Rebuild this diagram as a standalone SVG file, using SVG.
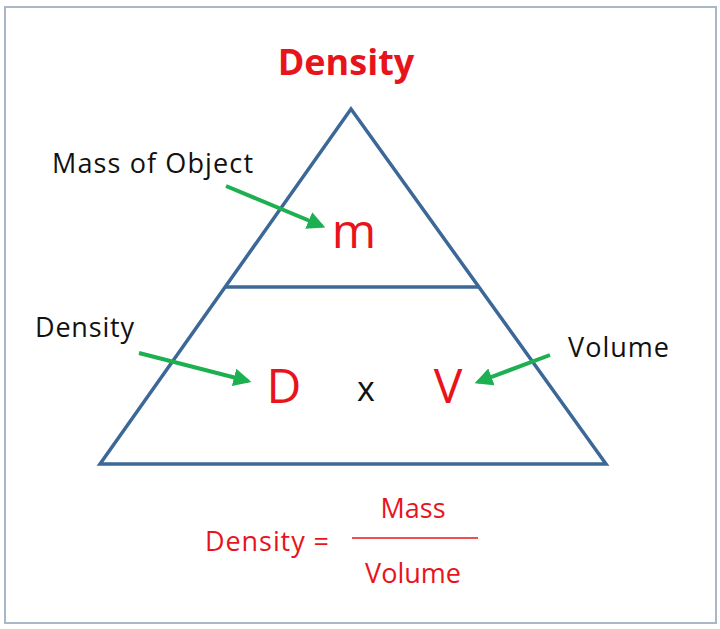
<svg xmlns="http://www.w3.org/2000/svg" width="720" height="629" viewBox="0 0 720 629">
<style>
text{font-family:"Open Sans","Noto Sans","Liberation Sans",sans-serif}
.lbl{font-size:27px;fill:#111}
.red{fill:#e8141c}
.edge{stroke:#1db050;stroke-width:4;fill:none;marker-end:url(#ah)}
.tri{stroke:#3c6898;stroke-width:3.5;fill:none}
</style>
<defs><marker id="ah" viewBox="0 0 10 10" refX="8" refY="5" markerWidth="4.5" markerHeight="4.5" orient="auto"><path d="M0,0L10,5L0,10z" fill="#1db050"/></marker></defs>
<rect x="5" y="7" width="711" height="616" fill="#fff" stroke="#aab7c6" stroke-width="2"/>
<g id="triangle"><path class="tri" d="M351,109L100,464H606Z"/><line class="tri" x1="226" y1="287" x2="478" y2="287"/></g>
<g id="title"><text x="346" y="75" text-anchor="middle" font-size="36" font-weight="bold" class="red">Density</text></g>
<g id="m"><text x="354" y="248" text-anchor="middle" font-size="48" class="red">m</text></g>
<g id="D"><text x="284" y="403" text-anchor="middle" font-size="48" class="red">D</text></g>
<g id="x"><text x="366" y="401" text-anchor="middle" font-size="34" fill="#111">x</text></g>
<g id="V"><text x="448" y="403" text-anchor="middle" font-size="48" class="red">V</text></g>
<g id="lblMass"><text x="52" y="173" class="lbl" textLength="201">Mass of Object</text></g>
<g id="lblDensity"><text x="35" y="337" class="lbl" textLength="99">Density</text></g>
<g id="lblVolume"><text x="568" y="357" class="lbl" textLength="101">Volume</text></g>
<g id="formula">
<text x="205" y="551" font-size="27" class="red" textLength="124">Density =</text>
<text x="413" y="518" text-anchor="middle" font-size="27" class="red">Mass</text>
<line x1="352" y1="538" x2="478" y2="538" stroke="#e8141c" stroke-width="1.5"/>
<text x="413" y="583" text-anchor="middle" font-size="27" class="red">Volume</text>
</g>
<g id="connectors">
<line class="edge" x1="226" y1="186" x2="322" y2="226"/>
<line class="edge" x1="139" y1="353" x2="248" y2="381"/>
<line class="edge" x1="550" y1="355" x2="478" y2="382"/>
</g>
</svg>
